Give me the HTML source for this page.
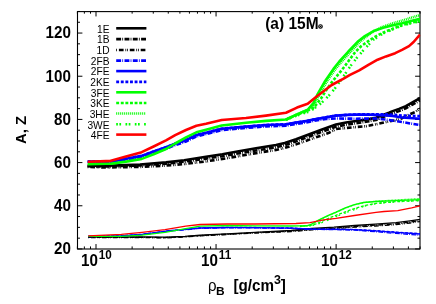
<!DOCTYPE html>
<html><head><meta charset="utf-8"><title>A, Z vs rho_B</title>
<style>html,body{margin:0;padding:0;background:#fff}body{width:436px;height:304px;overflow:hidden;font-family:"Liberation Sans",sans-serif}svg{display:block}</style>
</head><body>
<svg width="436" height="304" viewBox="0 0 436 304">
<defs><mask id="m"><rect width="436" height="304" fill="#fff"/></mask><clipPath id="c"><rect x="77.50" y="11.55" width="342.80" height="237.40"/></clipPath></defs>
<rect width="436" height="304" fill="#fff"/>
<rect x="77.5" y="11.6" width="342.5" height="237.4" fill="none" stroke="#000" stroke-width="1.1"/>
<path d="M77.50 248.95h4.9M420.00 248.95h-4.9M77.50 238.16h2.5M420.00 238.16h-2.5M77.50 227.36h2.5M420.00 227.36h-2.5M77.50 216.56h2.5M420.00 216.56h-2.5M77.50 205.77h4.9M420.00 205.77h-4.9M77.50 194.97h2.5M420.00 194.97h-2.5M77.50 184.18h2.5M420.00 184.18h-2.5M77.50 173.38h2.5M420.00 173.38h-2.5M77.50 162.59h4.9M420.00 162.59h-4.9M77.50 151.80h2.5M420.00 151.80h-2.5M77.50 141.00h2.5M420.00 141.00h-2.5M77.50 130.20h2.5M420.00 130.20h-2.5M77.50 119.41h4.9M420.00 119.41h-4.9M77.50 108.62h2.5M420.00 108.62h-2.5M77.50 97.82h2.5M420.00 97.82h-2.5M77.50 87.03h2.5M420.00 87.03h-2.5M77.50 76.23h4.9M420.00 76.23h-4.9M77.50 65.44h2.5M420.00 65.44h-2.5M77.50 54.64h2.5M420.00 54.64h-2.5M77.50 43.84h2.5M420.00 43.84h-2.5M77.50 33.05h4.9M420.00 33.05h-4.9M77.50 22.25h2.5M420.00 22.25h-2.5M77.50 11.46h2.5M420.00 11.46h-2.5M77.40 248.95v-2.5M77.40 11.55v2.1M84.36 248.95v-2.5M84.36 11.55v2.1M90.51 248.95v-2.5M90.51 11.55v2.1M96.00 248.95v-4.9M96.00 11.55v4.9M132.14 248.95v-2.5M132.14 11.55v2.1M153.28 248.95v-2.5M153.28 11.55v2.1M168.28 248.95v-2.5M168.28 11.55v2.1M179.92 248.95v-2.5M179.92 11.55v2.1M189.42 248.95v-2.5M189.42 11.55v2.1M197.46 248.95v-2.5M197.46 11.55v2.1M204.42 248.95v-2.5M204.42 11.55v2.1M210.57 248.95v-2.5M210.57 11.55v2.1M216.06 248.95v-4.9M216.06 11.55v4.9M252.20 248.95v-2.5M252.20 11.55v2.1M273.34 248.95v-2.5M273.34 11.55v2.1M288.34 248.95v-2.5M288.34 11.55v2.1M299.98 248.95v-2.5M299.98 11.55v2.1M309.48 248.95v-2.5M309.48 11.55v2.1M317.52 248.95v-2.5M317.52 11.55v2.1M324.48 248.95v-2.5M324.48 11.55v2.1M330.63 248.95v-2.5M330.63 11.55v2.1M336.12 248.95v-4.9M336.12 11.55v4.9M372.26 248.95v-2.5M372.26 11.55v2.1M393.40 248.95v-2.5M393.40 11.55v2.1M408.40 248.95v-2.5M408.40 11.55v2.1M420.04 248.95v-2.5M420.04 11.55v2.1" stroke="#000" stroke-width="1" fill="none"/>
<g fill="none" stroke-linejoin="round" stroke-linecap="butt" clip-path="url(#c)">
<polyline points="87.6,165.6 106.0,165.8 126.0,165.1 140.0,164.5 166.0,162.4 184.2,160.2 206.0,156.8 222.4,154.2 236.0,151.7 256.0,148.3 276.0,145.0 284.7,142.9 296.0,139.2 310.0,134.0 320.0,130.3 329.0,127.0 336.0,124.5 346.0,122.5 356.0,121.0 366.0,119.6 376.0,117.8 383.0,114.9 389.0,112.7 392.0,111.4 399.0,108.9 405.8,106.1 412.0,102.6 420.0,98.1" stroke="#000" stroke-width="2.6"/>
<polyline points="87.6,166.3 106.0,166.5 126.0,165.9 140.0,165.4 166.0,163.7 184.2,161.7 206.0,158.6 222.4,156.2 236.0,153.8 256.0,150.5 276.0,147.2 284.7,145.1 296.0,141.4 310.0,136.2 320.0,132.5 329.0,129.2 336.0,126.7 346.0,124.7 356.0,123.2 366.0,121.8 376.0,120.0 383.0,117.1 389.0,114.9 392.0,113.6 399.0,111.1 405.8,108.3 412.0,104.8 420.0,100.3" stroke="#000" stroke-width="2.6" stroke-dasharray="4.9 1.2 0.8 1.4"/>
<polyline points="87.6,166.9 106.0,167.5 126.0,167.1 140.0,166.9 166.0,165.6 184.2,164.0 206.0,161.4 222.4,158.9 236.0,156.6 256.0,153.1 276.0,149.9 284.7,147.9 296.0,144.4 310.0,139.4 320.0,135.9 329.0,132.8 336.0,129.0 346.0,128.0 356.0,127.0 366.0,126.2 376.0,124.3 386.0,122.1 394.0,120.4 402.2,118.2 410.4,114.0 415.0,112.1 418.7,109.4 420.0,108.4" stroke="#000" stroke-width="2.6" stroke-dasharray="4.7 1.8 0.8 0.9 0.8 1.9" stroke-dashoffset="8.2"/>
<polyline points="87.7,162.3 106.0,162.3 112.0,162.1 126.0,159.5 141.7,157.3 153.6,152.9 166.0,148.7 175.2,145.1 186.0,141.5 196.4,136.4 206.0,134.1 221.7,130.1 246.0,128.0 266.0,126.4 286.0,125.7 296.0,124.0 306.0,122.4 316.0,120.5 326.0,119.0 336.0,118.5 356.0,118.7 376.0,118.5 383.0,119.2 392.7,120.6 402.2,122.0 411.0,123.6 420.0,125.0" stroke="#0000ff" stroke-width="2.6" stroke-dasharray="4.9 1.2 0.8 1.4"/>
<polyline points="87.7,161.5 106.0,161.5 112.0,161.3 126.0,158.7 141.7,155.9 153.6,151.5 166.0,147.3 175.2,143.7 186.0,140.1 196.4,135.0 206.0,132.7 221.7,128.7 246.0,126.6 266.0,125.0 286.0,124.3 296.0,122.6 306.0,121.0 316.0,119.1 326.0,117.3 336.0,115.6 348.0,114.9 356.0,114.6 364.0,114.5 376.0,114.9 386.0,115.4 392.7,116.0 402.2,117.5 420.0,118.8" stroke="#0000ff" stroke-width="2.6"/>
<polyline points="87.7,161.5 106.0,161.5 112.0,161.3 126.0,158.7 141.7,155.9 153.6,151.5 166.0,147.3 175.2,143.7 186.0,140.1 196.4,135.0 206.0,132.7 221.7,128.7 246.0,126.6 266.0,125.0 286.0,124.3 296.0,122.6 306.0,121.0 316.0,119.1 326.0,117.3 336.0,115.6 348.0,114.8 356.0,114.5 364.0,114.3 376.0,114.3 386.0,114.4 392.7,114.7 402.2,115.5 420.0,116.1" stroke="#0000ff" stroke-width="2.6" stroke-dasharray="2.9 1.7"/>
<polyline points="87.7,164.1 106.0,163.8 112.0,163.6 126.0,161.6 141.7,158.9 153.6,154.3 166.0,149.0 175.2,143.5 186.0,137.4 196.4,132.3 206.0,129.7 221.7,125.5 246.0,122.8 266.0,120.9 286.0,119.5 297.0,114.4 307.7,109.8 313.6,102.9 317.8,93.8 325.2,80.9 333.5,68.9 339.2,61.7 348.4,51.5 357.6,41.8 364.0,36.7 373.6,31.0 383.1,27.7 392.0,25.6 402.2,23.3 411.0,21.1 420.0,18.8" stroke="#00ff00" stroke-width="2.6"/>
<polyline points="286.0,119.6 297.0,114.8 307.7,110.6 314.0,107.5 321.0,98.5 326.0,90.5 332.1,81.8 339.0,73.5 344.7,66.3 349.4,59.8 355.3,52.0 361.3,46.0 368.7,40.9 373.6,37.6 383.1,32.6 392.7,28.8 402.2,25.0 411.0,22.8 420.0,20.8" stroke="#00ff00" stroke-width="2.6" stroke-dasharray="2.9 1.7"/>
<polyline points="286.0,119.5 297.0,114.5 307.7,110.0 315.0,103.5 319.8,93.8 327.2,80.9 335.5,68.9 341.6,61.7 350.8,51.5 360.0,41.8 366.0,36.9 373.6,31.3 383.1,26.6 392.0,23.6 402.2,20.6 411.0,17.8 420.0,15.0" stroke="#00ff00" stroke-width="2.6" stroke-dasharray="1.0 0.8"/>
<polyline points="286.0,119.7 297.0,115.5 307.7,112.0 313.6,108.9 321.5,102.9 329.8,94.7 335.4,87.8 344.1,75.4 350.7,65.8 356.7,58.0 362.3,51.5 368.7,44.6 373.6,39.5 383.1,33.4 392.7,29.4 402.2,25.4 411.0,23.2 420.0,21.2" stroke="#00ff00" stroke-width="2.6" stroke-dasharray="1.7 1.5 1.7 4.4"/>
<polyline points="87.7,161.7 106.0,161.1 110.0,161.0 126.0,156.6 141.7,152.2 153.6,146.5 166.0,140.4 175.2,135.2 186.0,130.0 196.4,125.8 206.0,123.8 221.7,120.0 246.0,118.0 266.0,115.6 286.0,112.8 297.0,107.6 307.7,103.8 316.0,97.0 331.7,85.0 343.6,78.6 350.0,74.9 359.2,70.3 368.4,64.8 377.6,59.7 386.0,56.4 395.2,53.2 402.0,49.9 409.0,46.1 413.6,42.0 420.0,34.6" stroke="#ff0000" stroke-width="2.6"/>
<polyline points="88.3,236.9 121.3,237.0 142.0,236.9 165.0,237.2 185.0,236.3 200.1,235.2 227.0,233.8 255.0,232.3 291.3,230.5 312.0,228.5 334.0,227.2 354.7,225.5 375.3,224.1 396.0,222.6 410.0,220.8 420.0,219.3" stroke="#000" stroke-width="1.3"/>
<polyline points="88.3,237.3 121.3,237.4 142.0,237.3 165.0,237.6 185.0,236.7 200.1,235.6 227.0,234.2 255.0,232.7 291.3,231.1 312.0,229.3 334.0,228.1 354.7,226.5 375.3,225.2 396.0,223.9 410.0,222.1 420.0,220.7" stroke="#000" stroke-width="1.3" stroke-dasharray="4.9 1.2 0.8 1.4"/>
<polyline points="88.3,237.6 121.3,237.7 142.0,237.6 165.0,237.9 185.0,237.0 200.1,235.9 227.0,234.5 255.0,233.0 291.3,231.6 312.0,229.8 334.0,228.7 354.7,227.2 375.3,226.0 396.0,224.7 410.0,223.0 420.0,221.6" stroke="#000" stroke-width="1.3" stroke-dasharray="4.7 1.8 0.8 0.9 0.8 1.9" stroke-dashoffset="8.2"/>
<polyline points="88.3,236.6 121.3,236.1 142.0,234.7 170.0,231.0 185.7,229.7 200.1,228.3 227.0,227.8 255.0,227.9 291.3,228.4 312.0,229.4 334.0,229.6 354.7,230.2 375.3,231.7 396.0,233.4 420.0,235.2" stroke="#0000ff" stroke-width="1.3" stroke-dasharray="4.9 1.2 0.8 1.4"/>
<polyline points="88.3,236.3 121.3,235.8 142.0,234.4 170.0,230.7 185.7,229.4 200.1,228.0 227.0,227.5 255.0,227.6 291.3,228.1 312.0,229.1 334.0,229.3 354.7,229.7 375.3,230.9 396.0,232.4 420.0,234.0" stroke="#0000ff" stroke-width="1.3"/>
<polyline points="88.3,236.2 121.3,235.7 142.0,234.3 170.0,230.6 185.7,229.3 200.1,227.9 227.0,227.4 255.0,227.5 291.3,228.0 312.0,229.0 334.0,229.2 354.7,229.5 375.3,230.6 396.0,232.1 420.0,233.6" stroke="#0000ff" stroke-width="1.3" stroke-dasharray="2.9 1.7"/>
<polyline points="88.3,236.4 121.3,236.4 142.0,235.2 165.0,232.3 185.7,228.6 200.1,226.1 227.0,225.5 255.0,225.9 291.3,226.0 307.9,225.6 311.7,224.0 319.0,219.8 328.3,215.3 336.0,212.1 345.2,207.9 354.4,204.6 363.6,202.5 376.0,201.5 396.0,200.6 420.0,199.7" stroke="#00ff00" stroke-width="1.3"/>
<polyline points="300.0,226.2 310.0,225.6 316.0,223.8 322.0,221.3 330.0,217.7 336.0,215.3 345.2,211.9 354.4,208.6 363.6,205.8 376.0,203.3 396.0,201.6 420.0,200.5" stroke="#00ff00" stroke-width="1.3" stroke-dasharray="2.9 1.7"/>
<polyline points="300.0,226.0 307.9,225.5 312.5,224.0 320.0,219.8 329.3,215.3 337.0,212.1 346.2,207.9 355.4,204.6 364.6,202.4 376.0,201.2 396.0,200.0 420.0,198.6" stroke="#00ff00" stroke-width="1.3" stroke-dasharray="0.85 0.6"/>
<polyline points="300.0,226.3 312.0,225.6 318.0,224.0 324.0,221.8 332.0,218.5 338.0,215.8 347.0,212.3 356.0,209.0 365.0,206.0 377.0,203.5 396.0,201.8 420.0,200.6" stroke="#00ff00" stroke-width="1.3" stroke-dasharray="1.7 1.5 1.7 4.4"/>
<polyline points="88.3,235.8 121.3,234.4 142.0,232.3 165.0,229.6 185.7,226.1 200.1,224.5 227.0,224.0 255.0,224.0 296.0,223.5 310.0,222.6 323.6,219.8 336.0,218.3 354.4,215.5 376.0,212.4 384.0,211.5 397.8,210.6 411.6,207.8 420.0,205.8" stroke="#ff0000" stroke-width="1.3"/>
</g>
<g mask="url(#m)">
<g fill="none">
<polyline points="116.2,28.3 146.4,28.3" stroke="#000" stroke-width="2.6"/>
<polyline points="116.2,39.1 146.4,39.1" stroke="#000" stroke-width="2.6" stroke-dasharray="4.9 1.2 0.8 1.4"/>
<polyline points="116.2,50.0 146.4,50.0" stroke="#000" stroke-width="2.6" stroke-dasharray="4.7 1.8 0.8 0.9 0.8 1.9" stroke-dashoffset="8.2"/>
<polyline points="116.2,60.6 146.4,60.6" stroke="#0000ff" stroke-width="2.6" stroke-dasharray="4.9 1.2 0.8 1.4"/>
<polyline points="116.2,71.1 146.4,71.1" stroke="#0000ff" stroke-width="2.6"/>
<polyline points="116.2,81.9 146.4,81.9" stroke="#0000ff" stroke-width="2.6" stroke-dasharray="2.9 1.7"/>
<polyline points="116.2,92.3 146.4,92.3" stroke="#00ff00" stroke-width="2.6"/>
<polyline points="116.2,103.0 146.4,103.0" stroke="#00ff00" stroke-width="2.6" stroke-dasharray="2.9 1.7"/>
<polyline points="116.2,113.5 146.2,113.5" stroke="#00ff00" stroke-width="2.3" stroke-dasharray="1 1"/>
<polyline points="116.2,124.3 146.4,124.3" stroke="#00ff00" stroke-width="2.6" stroke-dasharray="1.7 1.5 1.7 4.4"/>
<polyline points="116.2,134.6 146.4,134.6" stroke="#ff0000" stroke-width="2.6"/>
</g>
<text x="109.5" y="32.6" text-anchor="end" font-family="Liberation Sans, sans-serif" font-size="10.2">1E</text>
<text x="109.5" y="43.4" text-anchor="end" font-family="Liberation Sans, sans-serif" font-size="10.2">1B</text>
<text x="109.5" y="54.3" text-anchor="end" font-family="Liberation Sans, sans-serif" font-size="10.2">1D</text>
<text x="109.5" y="64.9" text-anchor="end" font-family="Liberation Sans, sans-serif" font-size="10.2">2FB</text>
<text x="109.5" y="75.4" text-anchor="end" font-family="Liberation Sans, sans-serif" font-size="10.2">2FE</text>
<text x="109.5" y="86.2" text-anchor="end" font-family="Liberation Sans, sans-serif" font-size="10.2">2KE</text>
<text x="109.5" y="96.6" text-anchor="end" font-family="Liberation Sans, sans-serif" font-size="10.2">3FE</text>
<text x="109.5" y="107.3" text-anchor="end" font-family="Liberation Sans, sans-serif" font-size="10.2">3KE</text>
<text x="109.5" y="117.8" text-anchor="end" font-family="Liberation Sans, sans-serif" font-size="10.2">3HE</text>
<text x="109.5" y="128.6" text-anchor="end" font-family="Liberation Sans, sans-serif" font-size="10.2">3WE</text>
<text x="109.5" y="138.9" text-anchor="end" font-family="Liberation Sans, sans-serif" font-size="10.2">4FE</text>
<text transform="translate(70.9,254.2) scale(1,1.03)" text-anchor="end" font-family="Liberation Sans, sans-serif" font-weight="bold" font-size="15.2">20</text>
<text transform="translate(70.9,211.1) scale(1,1.03)" text-anchor="end" font-family="Liberation Sans, sans-serif" font-weight="bold" font-size="15.2">40</text>
<text transform="translate(70.9,167.9) scale(1,1.03)" text-anchor="end" font-family="Liberation Sans, sans-serif" font-weight="bold" font-size="15.2">60</text>
<text transform="translate(70.9,124.7) scale(1,1.03)" text-anchor="end" font-family="Liberation Sans, sans-serif" font-weight="bold" font-size="15.2">80</text>
<text transform="translate(70.9,81.5) scale(1,1.03)" text-anchor="end" font-family="Liberation Sans, sans-serif" font-weight="bold" font-size="15.2">100</text>
<text transform="translate(70.9,38.4) scale(1,1.03)" text-anchor="end" font-family="Liberation Sans, sans-serif" font-weight="bold" font-size="15.2">120</text>
<text transform="translate(81.0,266.3) scale(1,1.1)" font-family="Liberation Sans, sans-serif" font-weight="bold" font-size="15.2">10</text>
<text transform="translate(98.7,258.8) scale(1,1.06)" font-family="Liberation Sans, sans-serif" font-weight="bold" font-size="11.7">10</text>
<text transform="translate(201.1,266.3) scale(1,1.1)" font-family="Liberation Sans, sans-serif" font-weight="bold" font-size="15.2">10</text>
<text transform="translate(218.8,258.8) scale(1,1.06)" font-family="Liberation Sans, sans-serif" font-weight="bold" font-size="11.7">11</text>
<text transform="translate(321.1,266.3) scale(1,1.1)" font-family="Liberation Sans, sans-serif" font-weight="bold" font-size="15.2">10</text>
<text transform="translate(338.8,258.8) scale(1,1.06)" font-family="Liberation Sans, sans-serif" font-weight="bold" font-size="11.7">12</text>
<text transform="translate(26.0,130) rotate(-90) scale(1,1.04)" text-anchor="middle" font-family="Liberation Sans, sans-serif" font-weight="bold" font-size="14.9">A, Z</text>
<text transform="translate(265.2,28.6) scale(1.02,1.06)" font-family="Liberation Sans, sans-serif" font-weight="bold" font-size="15.2">(a) 15M</text>
<circle cx="320.5" cy="26.5" r="1.75" fill="none" stroke="#000" stroke-width="1.2"/><circle cx="320.5" cy="26.5" r="0.75" fill="#000"/>
<text transform="translate(207.9,290.5) scale(1,1.05)" font-family="Liberation Sans, sans-serif" font-size="15">ρ</text>
<text transform="translate(215.9,294.7) scale(1.17,1)" font-family="Liberation Sans, sans-serif" font-weight="bold" font-size="10.2">B</text>
<text transform="translate(233.4,290.6) scale(1,1.05)" font-family="Liberation Sans, sans-serif" font-weight="bold" font-size="15.2">[g/cm<tspan dy="-6.3" font-size="12.4">3</tspan><tspan dy="6.3">]</tspan></text>
</g>
</svg>
</body></html>
